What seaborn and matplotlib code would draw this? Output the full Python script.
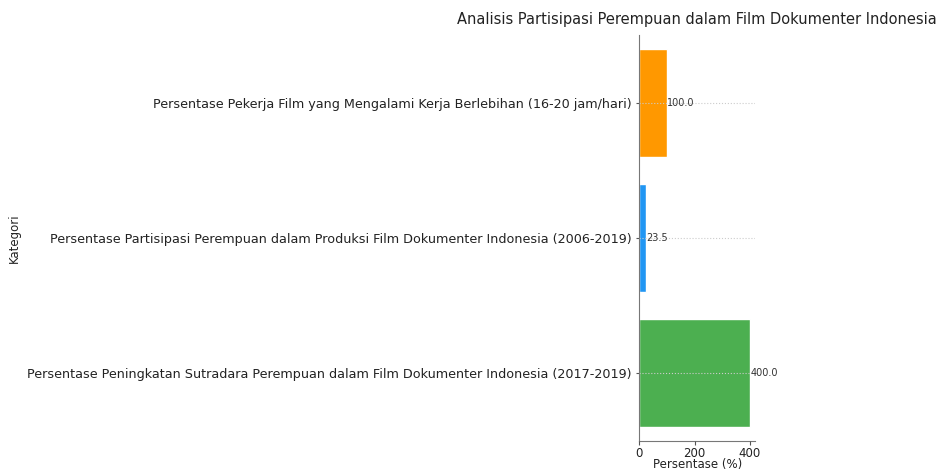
import matplotlib
matplotlib.use("Agg")
import matplotlib.pyplot as plt
import seaborn as sns
import pandas as pd

# Data (top to bottom as shown in the chart)
categories = [
    "Persentase Pekerja Film yang Mengalami Kerja Berlebihan (16-20 jam/hari)",
    "Persentase Partisipasi Perempuan dalam Produksi Film Dokumenter Indonesia (2006-2019)",
    "Persentase Peningkatan Sutradara Perempuan dalam Film Dokumenter Indonesia (2017-2019)",
]
values = [100.0, 23.5, 400.0]
colors = ["#FF9800", "#2196F3", "#4CAF50"]

df = pd.DataFrame({"Kategori": categories, "Persentase": values})

sns.set_style("ticks")
plt.rcParams["font.family"] = ["DejaVu Sans"]

fig = plt.figure(figsize=(9.43, 4.76), dpi=100)
ax = fig.add_axes([0.678, 0.0735, 0.123, 0.853])

sns.barplot(data=df, x="Persentase", y="Kategori", hue="Kategori",
            palette=colors, orient="h", width=0.8, saturation=1,
            legend=False, ax=ax)

# value labels next to each bar
for i, v in enumerate(values):
    ax.text(v + 1, i, f"{v:.1f}", va="center", ha="left", fontsize=7, color="#333333")

ax.set_xlim(0, 420)
ax.set_xticks([0, 200, 400])
ax.set_title("Analisis Partisipasi Perempuan dalam Film Dokumenter Indonesia",
             fontsize=10.5, color="#222222", pad=8)
ax.set_xlabel("Persentase (%)", fontsize=8.5, color="#222222")
ax.set_ylabel("Kategori", fontsize=8.5, color="#222222")
ax.xaxis.set_label_coords(0.5, -0.043)
ax.yaxis.set_label_coords(-5.33, 0.5)
ax.tick_params(axis="y", labelsize=9.2, length=2, colors="#555555", labelcolor="#222222")
ax.tick_params(axis="x", labelsize=8.5, length=3, pad=1.5, colors="#555555", labelcolor="#222222")

ax.grid(axis="y", linestyle=":", color="#cccccc", linewidth=0.8)
ax.set_axisbelow(False)

sns.despine(ax=ax)
for side in ["left", "bottom"]:
    ax.spines[side].set_color("#777777")

fig.savefig("out.png", dpi=100)
